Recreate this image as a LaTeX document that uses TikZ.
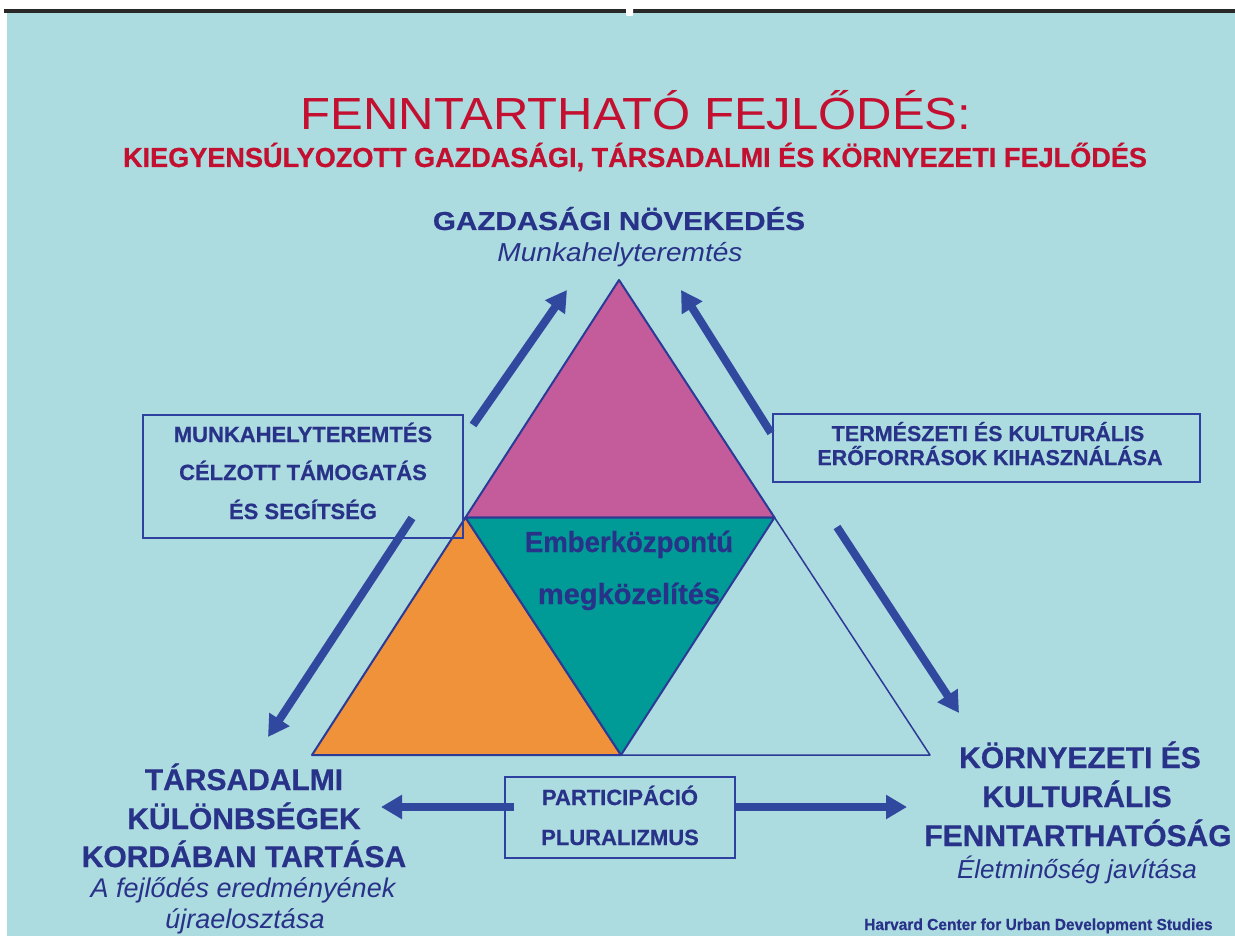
\documentclass[tikz,border=0pt]{standalone}
\usepackage{fontspec}
\usepackage{graphicx}
\setmainfont{Liberation Sans}[BoldFeatures={FakeBold=0.6}]
\usetikzlibrary{arrows.meta,calc}
\definecolor{bgblue}{RGB}{172,219,224}
\definecolor{titlered}{RGB}{196,16,48}
\definecolor{navy}{RGB}{40,50,136}
\definecolor{boxblue}{RGB}{46,64,160}
\definecolor{arrblue}{RGB}{48,72,158}
\definecolor{edgeblue}{RGB}{44,58,150}
\definecolor{pinkfill}{RGB}{196,92,156}
\definecolor{orangefill}{RGB}{240,146,58}
\definecolor{tealfill}{RGB}{0,155,150}
\definecolor{topbar}{RGB}{40,40,40}
\newcommand{\sx}[2]{\scalebox{#1}[1]{#2}}
\tikzset{
  ttl/.style={text=titlered, inner sep=0pt, anchor=base},
  nv/.style={text=navy, inner sep=0pt, anchor=base},
  bx/.style={draw=boxblue, line width=2pt, inner sep=0pt},
  arr/.style={draw=arrblue, line width=8pt, -{Triangle[length=21pt,width=23pt]}},
  tri/.style={draw=edgeblue, line width=2pt, line join=round},
}
\begin{document}
\begin{tikzpicture}[x=1pt,y=-1pt]
\fill[white] (0,0) rectangle (1235,936);
\fill[bgblue] (7,13) rectangle (1235,936);
\fill[topbar] (4,9) rectangle (1235,13);
\fill[white, rounded corners=1pt] (626,7) rectangle (633,16);
\useasboundingbox (0,0) rectangle (1235,936);

% title
\node[ttl, font=\fontsize{45}{54}\selectfont] (t1) at (636,130) {\sx{1.09}{FENNTARTHATÓ FEJLŐDÉS:}};
\node[ttl, font=\bfseries\fontsize{27.5}{33}\selectfont] (t2) at (635,167) {\sx{0.985}{KIEGYENSÚLYOZOTT GAZDASÁGI, TÁRSADALMI ÉS KÖRNYEZETI FEJLŐDÉS}};

% top label
\node[nv, font=\bfseries\fontsize{26}{31}\selectfont] (g1) at (619,230) {\sx{1.14}{GAZDASÁGI NÖVEKEDÉS}};
\node[nv, font=\itshape\fontsize{26}{31}\selectfont] (g2) at (620,262) {\sx{1.08}{Munkahelyteremtés}};

% triangle
\coordinate (A) at (619,280);
\coordinate (L) at (312,755);
\coordinate (R) at (930,755);
\coordinate (ML) at (465.5,517.5);
\coordinate (MR) at (774.5,517.5);
\coordinate (MB) at (621,755);
\filldraw[tri, fill=pinkfill] (A) -- (ML) -- (MR) -- cycle;
\filldraw[tri, fill=orangefill] (ML) -- (L) -- (MB) -- cycle;
\filldraw[tri, fill=tealfill] (ML) -- (MR) -- (MB) -- cycle;
\draw[draw=edgeblue, line width=1.5pt, line join=round] (MR) -- (R) -- (MB);

\node[nv, font=\bfseries\fontsize{29}{35}\selectfont] (c1) at (629,552) {\sx{0.95}{Emberközpontú}};
\node[nv, font=\bfseries\fontsize{29}{35}\selectfont] (c2) at (629,604) {\sx{1.0}{megközelítés}};

% left box
\node[bx, minimum width=320pt, minimum height=123pt] (lbox) at (303,476) {};
\node[nv, font=\bfseries\fontsize{22}{26}\selectfont] (l1) at (303,442) {MUNKAHELYTEREMTÉS};
\node[nv, font=\bfseries\fontsize{22}{26}\selectfont] (l2) at (303,480) {CÉLZOTT TÁMOGATÁS};
\node[nv, font=\bfseries\fontsize{22}{26}\selectfont] (l3) at (303,519) {ÉS SEGÍTSÉG};

% right box
\node[bx, minimum width=427pt, minimum height=68pt] (rbox) at (986.5,448) {};
\node[nv, font=\bfseries\fontsize{21.5}{26}\selectfont] (r1) at (988,441) {TERMÉSZETI ÉS KULTURÁLIS};
\node[nv, font=\bfseries\fontsize{21.5}{26}\selectfont] (r2) at (990,465) {ERŐFORRÁSOK KIHASZNÁLÁSA};

% bottom box
\node[bx, minimum width=230pt, minimum height=81pt] (pbox) at (620,817.5) {};
\node[nv, font=\bfseries\fontsize{22}{26}\selectfont] (p1) at (620,805) {PARTICIPÁCIÓ};
\node[nv, font=\bfseries\fontsize{22}{26}\selectfont] (p2) at (620,845) {PLURALIZMUS};

% bottom left label
\node[nv, font=\bfseries\fontsize{30}{36}\selectfont] (bl1) at (244,790) {TÁRSADALMI};
\node[nv, font=\bfseries\fontsize{30}{36}\selectfont] (bl2) at (244,829) {KÜLÖNBSÉGEK};
\node[nv, font=\bfseries\fontsize{30}{36}\selectfont] (bl3) at (244,867) {KORDÁBAN TARTÁSA};
\node[nv, font=\itshape\fontsize{27}{32}\selectfont] (bl4) at (243,897) {A fejlődés eredményének};
\node[nv, font=\itshape\fontsize{27}{32}\selectfont] (bl5) at (245,928) {újraelosztása};

% bottom right label
\node[nv, font=\bfseries\fontsize{30}{36}\selectfont] (br1) at (1080,768) {KÖRNYEZETI ÉS};
\node[nv, font=\bfseries\fontsize{30}{36}\selectfont] (br2) at (1077,807) {KULTURÁLIS};
\node[nv, font=\bfseries\fontsize{30}{36}\selectfont] (br3) at (1078,846) {FENNTARTHATÓSÁG};
\node[nv, font=\itshape\fontsize{26}{31}\selectfont] (br4) at (1077,878) {Életminőség javítása};

\node[nv, anchor=base west, font=\bfseries\fontsize{16}{19}\selectfont] (hv) at (864,930) {\sx{0.97}{Harvard Center for Urban Development Studies}};

% arrows
\coordinate (ulT) at (473,425);
\coordinate (ulH) at (567,290);
\coordinate (urT) at (771,433);
\coordinate (urH) at (681,290);
\coordinate (dlT) at (412,518);
\coordinate (dlH) at (268,737);
\coordinate (drT) at (837,527);
\coordinate (drH) at (959,713);
\coordinate (bL) at (381,807);
\coordinate (bR) at (907,807);
\draw[arr] (ulT) -- (ulH);
\draw[arr] (urT) -- (urH);
\draw[arr] (dlT) -- (dlH);
\draw[arr] (drT) -- (drH);
\draw[arr] ($(pbox.west)+(10,-10.5)$) -- (bL);
\draw[arr] ($(pbox.east)+(0,-10.5)$) -- (bR);
\end{tikzpicture}
\end{document}
